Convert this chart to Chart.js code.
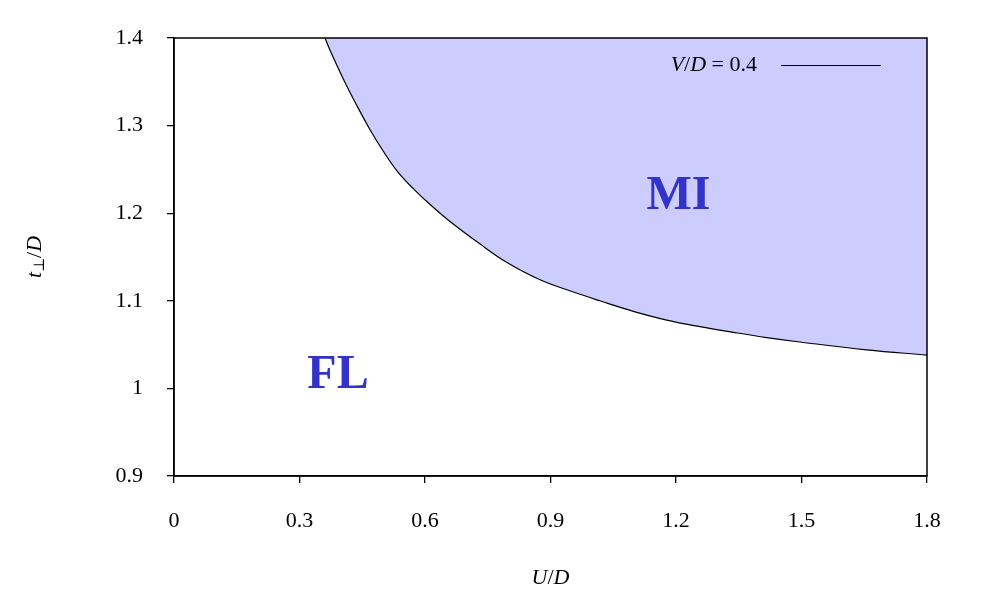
<!DOCTYPE html>
<html>
<head>
<meta charset="utf-8">
<script src="https://cdn.jsdelivr.net/npm/chart.js@4.4.0/dist/chart.umd.min.js"></script>
<style>
  body { margin: 0; background: #fff; }
</style>
</head>
<body>
<canvas id="phaseChart" width="997" height="607"></canvas>
<script>
// phase boundary between FL and MI (V/D = 0.4)
const uValues = [0.361, 0.373, 0.405, 0.437, 0.469, 0.500, 0.532, 0.572, 0.612, 0.656, 0.731, 0.795, 0.875, 0.955, 1.018, 1.098, 1.178, 1.257, 1.337, 1.417, 1.496, 1.656, 1.8];
const tValues = [1.400, 1.386, 1.353, 1.323, 1.295, 1.271, 1.249, 1.228, 1.210, 1.192, 1.165, 1.144, 1.124, 1.110, 1.100, 1.088, 1.078, 1.0705, 1.064, 1.058, 1.053, 1.044, 1.038];

const xTicks = [0, 0.3, 0.6, 0.9, 1.2, 1.5, 1.8];
const yTicks = [0.9, 1, 1.1, 1.2, 1.3, 1.4];

// region names and where they sit (in data units)
const regionNames = ['MI', 'FL'];
const regionU = [1.206, 0.392];
const regionT = [1.219, 1.015];

const serif = '"Liberation Serif", "DejaVu Serif", serif';

// draws a run of [text, style, size, dy] pieces centred on (x, y)
function drawMath(ctx, parts, x, y) {
  let total = 0;
  parts.forEach(p => {
    ctx.font = p[1] + ' ' + p[2] + 'px ' + serif;
    p.w = ctx.measureText(p[0]).width;
    total += p.w;
  });
  let cx = x - total / 2;
  ctx.textAlign = 'left';
  ctx.textBaseline = 'middle';
  parts.forEach(p => {
    ctx.font = p[1] + ' ' + p[2] + 'px ' + serif;
    ctx.fillText(p[0], cx, y + (p[3] || 0));
    cx += p.w;
  });
  return total;
}

const decorations = {
  id: 'decorations',
  afterDatasetsDraw(chart) {
    const { ctx, chartArea: a, scales: { x, y } } = chart;
    ctx.save();

    // frame
    ctx.strokeStyle = '#000';
    ctx.lineWidth = 1.5;
    ctx.strokeRect(a.left, a.top, a.right - a.left, a.bottom - a.top);

    // region names
    ctx.fillStyle = '#3333cc';
    ctx.font = 'bold 48px ' + serif;
    ctx.textAlign = 'center';
    ctx.textBaseline = 'middle';
    regionNames.forEach((n, i) => {
      ctx.fillText(n, x.getPixelForValue(regionU[i]), y.getPixelForValue(regionT[i]));
    });

    // legend
    ctx.fillStyle = '#000';
    const ly = a.top + 27;
    const legendParts = [['V', 'italic', 22], ['/', 'normal', 22], ['D', 'italic', 22], [' = 0.4', 'normal', 22]];
    let w = 0;
    legendParts.forEach(p => { ctx.font = p[1] + ' 22px ' + serif; w += ctx.measureText(p[0]).width; });
    drawMath(ctx, legendParts, a.right - 170 - w / 2, ly);
    ctx.strokeStyle = '#000';
    ctx.lineWidth = 1.2;
    ctx.beginPath();
    ctx.moveTo(a.right - 146, ly + 0.5);
    ctx.lineTo(a.right - 46, ly + 0.5);
    ctx.stroke();

    // axis titles
    drawMath(ctx, [['U', 'italic', 22], ['/', 'normal', 22], ['D', 'italic', 22]], (a.left + a.right) / 2, 578);
    ctx.translate(35, 257);
    ctx.rotate(-Math.PI / 2);
    drawMath(ctx, [['t', 'italic', 22], ['\u22a5', 'normal', 15, 5], ['/', 'normal', 22], ['D', 'italic', 22]], 0, 0);

    ctx.restore();
  }
};

new Chart(document.getElementById('phaseChart'), {
  type: 'line',
  data: {
    datasets: [{
      label: 'V/D = 0.4',
      data: uValues.map((u, i) => ({ x: u, y: tValues[i] })),
      borderColor: '#000',
      borderWidth: 1.2,
      backgroundColor: '#ccccff',
      fill: 'end',
      pointRadius: 0,
      tension: 0.4
    }]
  },
  options: {
    responsive: false,
    animation: false,
    layout: { padding: { top: 38, right: 70, left: 0, bottom: 0 } },
    plugins: {
      legend: { display: false },
      tooltip: { enabled: false }
    },
    scales: {
      x: {
        type: 'linear',
        min: 0,
        max: 1.8,
        afterBuildTicks: s => { s.ticks = xTicks.map(v => ({ value: v })); },
        afterFit: s => { s.height = 131; },
        ticks: {
          color: '#000',
          padding: 25,
          maxRotation: 0,
          font: { family: serif, size: 22 },
          callback: v => String(v)
        },
        grid: { drawOnChartArea: false, tickLength: 7, color: '#000', lineWidth: 1.3 },
        border: { color: '#000', width: 1.5 }
      },
      y: {
        type: 'linear',
        min: 0.9,
        max: 1.4,
        afterBuildTicks: s => { s.ticks = yTicks.map(v => ({ value: v })); },
        afterFit: s => { s.width = 174; },
        ticks: {
          color: '#000',
          padding: 24,
          font: { family: serif, size: 22 },
          callback: v => String(v)
        },
        grid: { drawOnChartArea: false, tickLength: 7, color: '#000', lineWidth: 1.3 },
        border: { color: '#000', width: 1.5 }
      }
    }
  },
  plugins: [decorations]
});
</script>
</body>
</html>
